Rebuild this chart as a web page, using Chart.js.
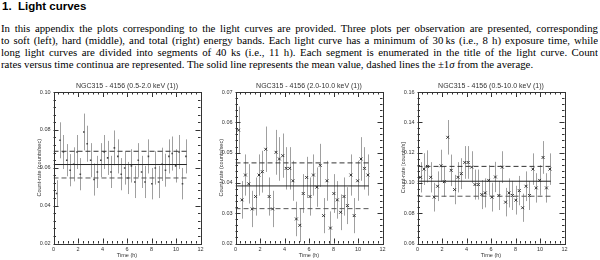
<!DOCTYPE html>
<html>
<head>
<meta charset="utf-8">
<script src="https://cdn.jsdelivr.net/npm/chart.js@4.4.1/dist/chart.umd.min.js"></script>
<style>
  html, body { margin: 0; padding: 0; background: #fff; }
  body { width: 600px; height: 260px; position: relative; overflow: hidden; }
  #head { position: absolute; left: 2px; top: 0px; font: bold 11.5px "Liberation Sans", Arial, sans-serif; line-height: 13px; color: #000; }
  .ln { position: absolute; left: 1px; width: 597px; font: 10.8px "Liberation Serif", "Times New Roman", serif; line-height: 12px; color: #000; white-space: normal; height: 12px; overflow: hidden; }
  .j { text-align: justify; text-align-last: justify; }
  canvas { position: absolute; top: 80px; }
</style>
</head>
<body>
<div id="head">1.&nbsp;&nbsp;Light curves</div>
<div class="ln j" style="top:22px">In this appendix the plots corresponding to the light curves are provided. Three plots per observation are presented, corresponding</div>
<div class="ln j" style="top:34px">to soft (left), hard (middle), and total (right) energy bands. Each light curve has a minimum of 30&#8201;ks (i.e., 8 h) exposure time, while</div>
<div class="ln j" style="top:46px">long light curves are divided into segments of 40 ks (i.e., 11 h). Each segment is enumerated in the title of the light curve. Count</div>
<div class="ln" style="top:58px">rates versus time continua are represented. The solid line represents the mean value, dashed lines the ±1<i>σ</i> from the average.</div>

<canvas id="softChart" width="194" height="180" style="left:30px"></canvas>
<canvas id="hardChart" width="194" height="180" style="left:212px"></canvas>
<canvas id="totalChart" width="194" height="180" style="left:394px"></canvas>

<script>
// time bins (hours) shared by the three bands
const timeH = [0.25, 0.53, 0.81, 1.08, 1.36, 1.64, 1.92, 2.19, 2.47, 2.75,
               3.03, 3.31, 3.58, 3.86, 4.14, 4.42, 4.69, 4.97, 5.25, 5.53,
               5.81, 6.08, 6.36, 6.64, 6.92, 7.19, 7.47, 7.75, 8.03, 8.31,
               8.58, 8.86, 9.14, 9.42, 9.69, 9.97, 10.25, 10.53, 10.81];

// soft band 0.5-2.0 keV
const softRate = [0.0464, 0.0745, 0.0683, 0.0640, 0.0587, 0.0618, 0.0683, 0.0566, 0.0789, 0.0727,
                  0.0640, 0.0538, 0.0578, 0.0640, 0.0683, 0.0652, 0.0578, 0.0705, 0.0660, 0.0566,
                  0.0599, 0.0546, 0.0610, 0.0525, 0.0640, 0.0578, 0.0525, 0.0660, 0.0516, 0.0599,
                  0.0525, 0.0618, 0.0587, 0.0660, 0.0675, 0.0610, 0.0683, 0.0516, 0.0660];
const softErr  = [0.0070, 0.0095, 0.0090, 0.0085, 0.0085, 0.0090, 0.0090, 0.0085, 0.0097, 0.0095,
                  0.0090, 0.0085, 0.0085, 0.0090, 0.0090, 0.0090, 0.0085, 0.0092, 0.0090, 0.0085,
                  0.0088, 0.0085, 0.0088, 0.0085, 0.0090, 0.0085, 0.0085, 0.0090, 0.0083, 0.0088,
                  0.0085, 0.0088, 0.0087, 0.0090, 0.0090, 0.0088, 0.0090, 0.0083, 0.0090];
const softStats = [0.0617, 0.0687, 0.0546]; // mean, +1 sigma, -1 sigma

// hard band 2.0-10.0 keV
const hardRate = [0.0574, 0.0344, 0.0426, 0.0397, 0.0314, 0.0355, 0.0426, 0.0437, 0.0511, 0.0355,
                  0.0314, 0.0501, 0.0479, 0.0490, 0.0448, 0.0448, 0.0407, 0.0281, 0.0260, 0.0365,
                  0.0418, 0.0355, 0.0426, 0.0386, 0.0458, 0.0292, 0.0407, 0.0251, 0.0365, 0.0344,
                  0.0303, 0.0355, 0.0325, 0.0426, 0.0292, 0.0407, 0.0479, 0.0448, 0.0426];
const hardErr  = [0.0078, 0.0062, 0.0068, 0.0065, 0.0060, 0.0063, 0.0068, 0.0069, 0.0075, 0.0063,
                  0.0060, 0.0074, 0.0072, 0.0073, 0.0070, 0.0070, 0.0066, 0.0057, 0.0055, 0.0064,
                  0.0068, 0.0063, 0.0068, 0.0065, 0.0071, 0.0058, 0.0066, 0.0055, 0.0064, 0.0062,
                  0.0059, 0.0063, 0.0061, 0.0068, 0.0058, 0.0066, 0.0072, 0.0070, 0.0068];
const hardStats = [0.0390, 0.0466, 0.0315];

// total band 0.5-10.0 keV
const totalRate = [0.1037, 0.1091, 0.1109, 0.1037, 0.0906, 0.0978, 0.1113, 0.1008, 0.1301, 0.1083,
                   0.0956, 0.1037, 0.1061, 0.1135, 0.1135, 0.1104, 0.0989, 0.0989, 0.0923, 0.0934,
                   0.1017, 0.0906, 0.1039, 0.0917, 0.1104, 0.0873, 0.0934, 0.0917, 0.0886, 0.0949,
                   0.0836, 0.0978, 0.0917, 0.1091, 0.0967, 0.1017, 0.1168, 0.0967, 0.1091];
const totalErr  = [0.0100, 0.0105, 0.0106, 0.0100, 0.0095, 0.0098, 0.0106, 0.0100, 0.0114, 0.0104,
                   0.0097, 0.0100, 0.0102, 0.0108, 0.0108, 0.0105, 0.0099, 0.0099, 0.0096, 0.0096,
                   0.0100, 0.0095, 0.0100, 0.0096, 0.0105, 0.0094, 0.0096, 0.0096, 0.0095, 0.0097,
                   0.0093, 0.0098, 0.0096, 0.0104, 0.0097, 0.0100, 0.0108, 0.0097, 0.0104];
const totalStats = [0.1011, 0.1109, 0.0912];

const meanSpan = [0, 10.88]; // time range covered by mean / sigma lines

const axisFont = { family: 'Liberation Sans', size: 5.5 };
const inkColor = '#333';

// IDL style frame: box on all four sides, inward major + minor ticks, error bars
const idlFrame = {
  id: 'idlFrame',
  beforeDatasetsDraw(chart) {
    const { ctx, scales: { x, y } } = chart;
    chart.data.datasets.forEach(ds => {
      if (!ds.errors) return;
      ctx.save();
      ctx.strokeStyle = '#a0a0a0';
      ctx.lineWidth = 1;
      ds.data.forEach((p, i) => {
        const px = Math.round(x.getPixelForValue(p.x)) + 0.5;
        ctx.beginPath();
        ctx.moveTo(px, y.getPixelForValue(p.y - ds.errors[i]));
        ctx.lineTo(px, y.getPixelForValue(p.y + ds.errors[i]));
        ctx.stroke();
      });
      ctx.restore();
    });
  },
  afterDraw(chart) {
    const { ctx, chartArea: a, scales: { x, y } } = chart;
    ctx.save();
    ctx.strokeStyle = inkColor;
    ctx.lineWidth = 1;
    ctx.strokeRect(Math.round(a.left) + 0.5, Math.round(a.top) + 0.5,
                   Math.round(a.right - a.left), Math.round(a.bottom - a.top));
    const ticksOf = scale => {
      const out = [];
      const v = scale.ticks.map(t => t.value);
      v.forEach((val, i) => {
        out.push([val, 5]);
        if (i < v.length - 1) {
          for (let k = 1; k < 5; k++) out.push([val + (v[i + 1] - val) * k / 5, 2.5]);
        }
      });
      return out;
    };
    ctx.beginPath();
    ticksOf(x).forEach(([val, len]) => {
      const px = Math.round(x.getPixelForValue(val)) + 0.5;
      ctx.moveTo(px, a.bottom); ctx.lineTo(px, a.bottom - len);
      ctx.moveTo(px, a.top); ctx.lineTo(px, a.top + len);
    });
    ticksOf(y).forEach(([val, len]) => {
      const py = Math.round(y.getPixelForValue(val)) + 0.5;
      ctx.moveTo(a.left, py); ctx.lineTo(a.left + len, py);
      ctx.moveTo(a.right, py); ctx.lineTo(a.right - len, py);
    });
    ctx.stroke();
    ctx.restore();
  }
};

function lightCurve(id, title, yTitle, rate, err, stats, yMin, yMax, yStep, marker) {
  const pts = timeH.map((t, i) => ({ x: t, y: rate[i] }));
  const level = v => [{ x: meanSpan[0], y: v }, { x: meanSpan[1], y: v }];
  const isDot = marker === 'rect';
  return new Chart(document.getElementById(id), {
    data: {
      datasets: [
        { type: 'line', data: level(stats[0]), borderColor: '#222', borderWidth: 1, pointRadius: 0 },
        { type: 'line', data: level(stats[1]), borderColor: '#333', borderWidth: 1, borderDash: [5, 3], pointRadius: 0 },
        { type: 'line', data: level(stats[2]), borderColor: '#555', borderWidth: 1, borderDash: [5, 3], pointRadius: 0 },
        {
          type: 'scatter', data: pts, errors: err,
          pointStyle: marker, pointRadius: isDot ? 1.1 : 2,
          borderColor: inkColor, backgroundColor: '#444', borderWidth: isDot ? 0 : 1
        }
      ]
    },
    options: {
      responsive: false,
      animation: false,
      devicePixelRatio: 1,
      layout: { padding: 0 },
      plugins: {
        legend: { display: false },
        tooltip: { enabled: false },
        title: {
          display: true, text: title, color: inkColor,
          font: { family: 'Liberation Sans', size: 7, weight: 'normal', lineHeight: 1 },
          padding: { top: 2.5, bottom: 2.5 }
        }
      },
      scales: {
        x: {
          type: 'linear', min: 0, max: 12,
          grid: { display: false, drawTicks: false },
          border: { display: false },
          ticks: { stepSize: 2, color: inkColor, font: axisFont, padding: 3, maxRotation: 0,
                   callback: v => String(v) },
          title: { display: true, text: 'Time (h)', color: inkColor, font: axisFont, padding: { top: 0, bottom: 1 } },
          afterFit: s => { s.height = 16.5; }
        },
        y: {
          type: 'linear', min: yMin, max: yMax,
          grid: { display: false, drawTicks: false },
          border: { display: false },
          ticks: { stepSize: yStep, color: inkColor, font: axisFont, padding: 3,
                   callback: v => v.toFixed(2) },
          title: { display: true, text: yTitle, color: inkColor, font: axisFont, padding: { top: 6, bottom: 0 } },
          afterFit: s => { s.width = 23.5; }
        },
        // empty right axis keeps the plot box centred under the title
        yPad: {
          type: 'linear', position: 'right', min: 0, max: 1,
          grid: { display: false, drawTicks: false },
          border: { display: false },
          ticks: { display: false },
          afterFit: s => { s.width = 23.5; }
        }
      }
    },
    plugins: [idlFrame]
  });
}

lightCurve('softChart', 'NGC315 - 4156 (0.5-2.0 keV (1))', 'Count-rate (counts/sec)',
           softRate, softErr, softStats, 0.02, 0.10, 0.02, 'rect');
lightCurve('hardChart', 'NGC315 - 4156 (2.0-10.0 keV (1))', 'Count-rate (counts/sec)',
           hardRate, hardErr, hardStats, 0.02, 0.07, 0.01, 'crossRot');
lightCurve('totalChart', 'NGC315 - 4156 (0.5-10.0 keV (1))', 'Count-rate [counts/s]',
           totalRate, totalErr, totalStats, 0.06, 0.16, 0.02, 'crossRot');
</script>
</body>
</html>
